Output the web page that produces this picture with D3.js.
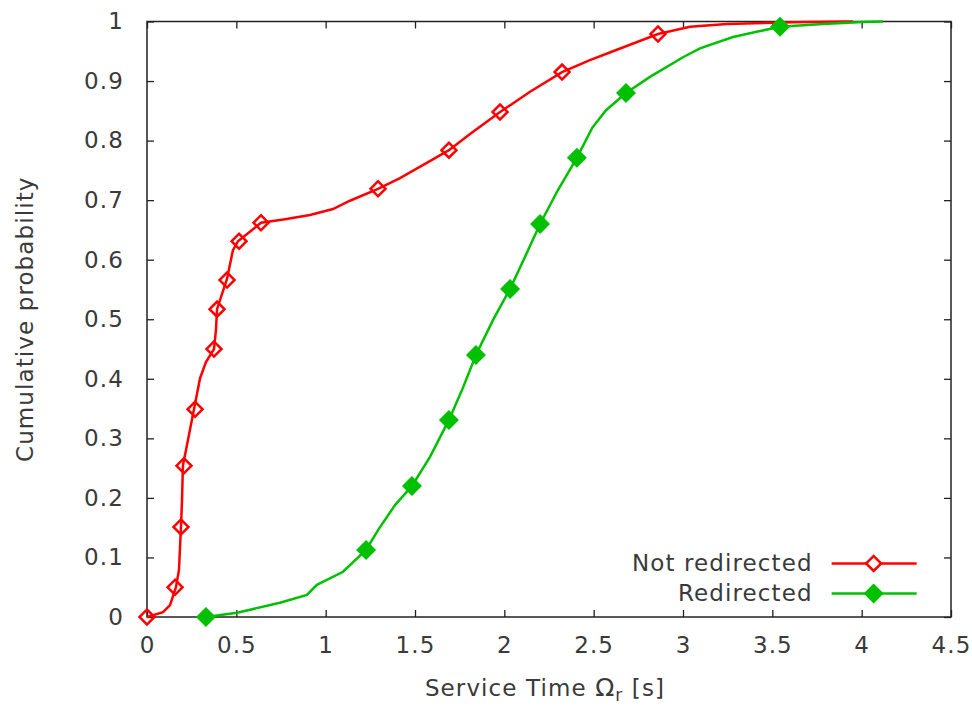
<!DOCTYPE html>
<html>
<head>
<meta charset="utf-8">
<script src="https://cdn.jsdelivr.net/npm/d3@7"></script>
<style>
  body { margin: 0; background: #fff; }
  text { font-family: "DejaVu Sans", sans-serif; fill: #3a3a3a; letter-spacing: 1.1px; }
</style>
</head>
<body>
<div class="chart"></div>
<script>
// CDF of service time
var notRedirectedTime = [0, 0.09, 0.129, 0.162, 0.179, 0.19, 0.196, 0.201, 0.229, 0.263, 0.297, 0.33, 0.375, 0.386, 0.392, 0.448, 0.481, 0.509, 0.576, 0.638, 0.772, 0.912, 1.041, 1.136, 1.293, 1.416, 1.556, 1.69, 1.808, 1.976, 2.144, 2.323, 2.479, 2.608, 2.86, 3.039, 3.246, 3.616, 3.951];
var notRedirectedProb = [0, 0.008, 0.02, 0.05, 0.079, 0.151, 0.196, 0.254, 0.297, 0.349, 0.401, 0.428, 0.45, 0.482, 0.517, 0.568, 0.616, 0.631, 0.647, 0.662, 0.668, 0.675, 0.685, 0.699, 0.719, 0.737, 0.761, 0.784, 0.811, 0.848, 0.882, 0.915, 0.935, 0.95, 0.979, 0.991, 0.996, 0.9987, 1];
var notRedirectedMarkTime = [0, 0.157, 0.19, 0.207, 0.269, 0.375, 0.392, 0.448, 0.515, 0.638, 1.293, 1.69, 1.976, 2.323, 2.86];
var notRedirectedMarkProb = [0, 0.05, 0.151, 0.254, 0.349, 0.45, 0.517, 0.566, 0.631, 0.662, 0.719, 0.784, 0.848, 0.915, 0.979];

var redirectedTime = [0.33, 0.504, 0.744, 0.895, 0.951, 1.097, 1.226, 1.293, 1.388, 1.483, 1.584, 1.69, 1.763, 1.841, 1.937, 2.032, 2.116, 2.2, 2.3, 2.406, 2.491, 2.569, 2.681, 2.815, 3.0, 3.095, 3.28, 3.431, 3.543, 3.783, 4.007, 4.119];
var redirectedProb = [0, 0.007, 0.024, 0.037, 0.054, 0.076, 0.1125, 0.146, 0.188, 0.22, 0.269, 0.331, 0.381, 0.44, 0.499, 0.551, 0.605, 0.66, 0.717, 0.771, 0.821, 0.851, 0.88, 0.907, 0.94, 0.955, 0.974, 0.984, 0.991, 0.996, 0.9992, 1];
var redirectedMarkTime = [0.33, 1.226, 1.483, 1.69, 1.841, 2.032, 2.2, 2.406, 2.681, 3.543];
var redirectedMarkProb = [0, 0.1125, 0.22, 0.331, 0.44, 0.551, 0.66, 0.771, 0.88, 0.991];

var xTicks = [0, 0.5, 1, 1.5, 2, 2.5, 3, 3.5, 4, 4.5];
var yTicks = [0, 0.1, 0.2, 0.3, 0.4, 0.5, 0.6, 0.7, 0.8, 0.9, 1];
var seriesNames = ["Not redirected", "Redirected"];

var svgWidth = 972;
var svgHeight = 706;
var margin = { top: 21.5, right: 21, bottom: 89, left: 147 };
var width = svgWidth - margin.left - margin.right;
var height = svgHeight - margin.top - margin.bottom;

var svg = d3.select(".chart")
  .append("svg")
  .attr("width", svgWidth)
  .attr("height", svgHeight);

var chartGroup = svg.append("g")
  .attr("transform", `translate(${margin.left}, ${margin.top})`);

var x = d3.scaleLinear().domain([0, 4.5]).range([0, width]);
var y = d3.scaleLinear().domain([0, 1]).range([height, 0]);

var fmt = d3.format("");

// axes, ticks pointing inward and mirrored on top/right
function styleAxis(g) {
  g.select(".domain").remove();
  g.selectAll(".tick line").attr("stroke", "#222").attr("stroke-width", 1.3);
  g.selectAll(".tick text").attr("font-size", 23).attr("font-family", "DejaVu Sans").attr("fill", "#3a3a3a");
}

chartGroup.append("g")
  .attr("transform", `translate(0, ${height})`)
  .call(d3.axisBottom(x).tickValues(xTicks).tickFormat(fmt).tickSize(-7).tickPadding(20))
  .call(styleAxis);

chartGroup.append("g")
  .call(d3.axisLeft(y).tickValues(yTicks).tickFormat(fmt).tickSize(-7).tickPadding(23))
  .call(styleAxis);

chartGroup.append("g")
  .call(d3.axisTop(x).tickValues(xTicks).tickFormat("").tickSize(-7))
  .call(styleAxis);

chartGroup.append("g")
  .attr("transform", `translate(${width}, 0)`)
  .call(d3.axisRight(y).tickValues(yTicks).tickFormat("").tickSize(-7))
  .call(styleAxis);

chartGroup.append("rect")
  .attr("width", width)
  .attr("height", height)
  .attr("fill", "none")
  .attr("stroke", "#222")
  .attr("stroke-width", 1.5);

var line = d3.line()
  .x(d => x(d[0]))
  .y(d => y(d[1]));

var diamond = function(size) {
  return d3.symbol().type(d3.symbolSquare).size(size)();
};

var series = [
  { name: seriesNames[0], color: "#ff0000", xs: notRedirectedTime, ys: notRedirectedProb,
    mx: notRedirectedMarkTime, my: notRedirectedMarkProb, filled: false, size: 112 },
  { name: seriesNames[1], color: "#00c000", xs: redirectedTime, ys: redirectedProb,
    mx: redirectedMarkTime, my: redirectedMarkProb, filled: true, size: 200 }
];

series.forEach(function(s) {
  var pts = s.xs.map((v, i) => [v, s.ys[i]]);
  chartGroup.append("path")
    .datum(pts)
    .attr("fill", "none")
    .attr("stroke", s.color)
    .attr("stroke-width", 2.5)
    .attr("d", line);

  var marks = s.mx.map((v, i) => [v, s.my[i]]);
  chartGroup.selectAll(null)
    .data(marks)
    .enter()
    .append("path")
    .attr("d", diamond(s.size))
    .attr("transform", d => `translate(${x(d[0])}, ${y(d[1])}) rotate(45)`)
    .attr("fill", s.filled ? s.color : "none")
    .attr("stroke", s.color)
    .attr("stroke-width", s.filled ? 0 : 2.5);
});

// legend
var legend = chartGroup.append("g")
  .attr("transform", `translate(${x(3.72)}, ${y(0.09)})`);

series.forEach(function(s, i) {
  var row = legend.append("g").attr("transform", `translate(0, ${i * 30})`);
  row.append("text")
    .attr("x", 1)
    .attr("y", 0)
    .attr("dy", "0.35em")
    .attr("text-anchor", "end")
    .attr("font-size", 23)
    .text(s.name);
  row.append("line")
    .attr("x1", 20).attr("x2", 105)
    .attr("stroke", s.color)
    .attr("stroke-width", 2.5);
  row.append("path")
    .attr("d", diamond(s.size))
    .attr("transform", "translate(62, 0) rotate(45)")
    .attr("fill", s.filled ? s.color : "#fff")
    .attr("stroke", s.color)
    .attr("stroke-width", s.filled ? 0 : 2.5);
});

// axes labels
chartGroup.append("text")
  .attr("transform", "rotate(-90)")
  .attr("x", 0 - (height / 2))
  .attr("y", 0 - margin.left + 33)
  .attr("text-anchor", "middle")
  .attr("font-size", 23)
  .text("Cumulative probability");

var xLabel = chartGroup.append("text")
  .attr("x", width / 2 - 4)
  .attr("y", height + 79)
  .attr("text-anchor", "middle")
  .attr("font-size", 23);
xLabel.append("tspan").text("Service Time ");
xLabel.append("tspan").attr("font-size", 25).text("Ω");
xLabel.append("tspan").attr("dy", 5).attr("font-size", 17).text("r");
xLabel.append("tspan").attr("dy", -5).text(" [s]");
</script>
</body>
</html>
